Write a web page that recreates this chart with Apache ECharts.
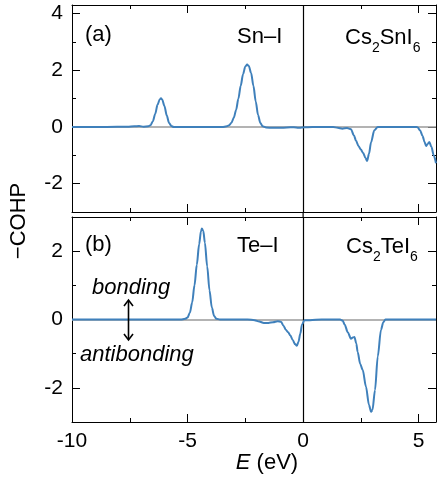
<!DOCTYPE html>
<html><head><meta charset="utf-8">
<script src="https://cdn.jsdelivr.net/npm/echarts@6/dist/echarts.min.js"></script>
<style>html,body{margin:0;padding:0;background:#fff}#c{width:437px;height:480px}</style>
</head><body><div id="c"></div>
<script>
// ---- axis ranges and ticks ----
const energyRange = [-10, 5.75];
const xMajorTicks = [-10, -5, 0, 5];
const xMinorTicks = [-7.5, -2.5, 2.5];
const yRangeA = [-3, 4.3];
const yMajorTicksA = [-2, 0, 2, 4];
const yMinorTicksA = [-3, -1, 1, 3];
const yRangeB = [-3, 3];
const yMajorTicksB = [-2, 0, 2];
const yMinorTicksB = [-1, 1];

// ---- (a) Cs2SnI6, Sn–I : [E (eV), -COHP] ----
const cohpSnI = [
  [-10, 0], [-8.5, 0], [-7.6, 0.005], [-7.3, 0.02], [-7.1, 0.03], [-6.9, 0.01],
  [-6.7, 0.02], [-6.6, 0.06], [-6.5, 0.2], [-6.4, 0.46], [-6.3, 0.78], [-6.2, 0.98],
  [-6.15, 1.01], [-6.1, 0.97], [-6.0, 0.74], [-5.9, 0.4], [-5.8, 0.14], [-5.7, 0.03],
  [-5.6, 0], [-3.5, 0], [-3.3, 0.02], [-3.2, 0.06], [-3.1, 0.15], [-3.0, 0.32],
  [-2.9, 0.6], [-2.8, 1.0], [-2.7, 1.45], [-2.6, 1.86], [-2.5, 2.13], [-2.42, 2.2],
  [-2.35, 2.15], [-2.25, 1.9], [-2.15, 1.45], [-2.05, 0.9], [-1.95, 0.42], [-1.85, 0.14],
  [-1.75, 0.02], [-1.6, -0.02], [-1.3, -0.03], [-1.0, -0.03], [-0.7, -0.02], [-0.4, -0.01],
  [-0.2, -0.03], [-0.05, -0.02], [0.2, -0.01], [0.6, 0], [1.3, 0], [1.5, -0.03],
  [1.7, -0.06], [1.9, -0.04], [2.07, -0.08], [2.2, -0.3], [2.29, -0.49], [2.4, -0.68],
  [2.5, -0.8], [2.6, -0.92], [2.7, -1.1], [2.77, -1.2], [2.85, -0.95], [2.94, -0.54],
  [3.08, -0.12], [3.23, 0], [4.9, 0], [4.96, -0.02], [5.06, -0.12], [5.17, -0.32],
  [5.25, -0.52], [5.32, -0.67], [5.39, -0.6], [5.46, -0.53], [5.55, -0.7], [5.65, -1.0],
  [5.75, -1.28]
];

// ---- (b) Cs2TeI6, Te–I : [E (eV), -COHP] ----
const cohpTeI = [
  [-10, 0], [-5.3, 0], [-5.1, 0.02], [-5.0, 0.06], [-4.9, 0.2], [-4.8, 0.5],
  [-4.7, 1.0], [-4.6, 1.6], [-4.5, 2.2], [-4.42, 2.58], [-4.38, 2.66], [-4.32, 2.6],
  [-4.25, 2.25], [-4.15, 1.55], [-4.05, 0.85], [-3.95, 0.35], [-3.85, 0.1], [-3.75, 0.02],
  [-3.6, 0], [-2.4, 0], [-2.1, -0.02], [-1.9, -0.06], [-1.7, -0.1], [-1.5, -0.1],
  [-1.3, -0.08], [-1.1, -0.05], [-0.95, -0.07], [-0.85, -0.18], [-0.75, -0.3], [-0.65, -0.37],
  [-0.55, -0.47], [-0.45, -0.6], [-0.35, -0.72], [-0.27, -0.77], [-0.2, -0.65], [-0.12, -0.41],
  [-0.05, -0.15], [0.06, -0.02], [0.3, -0.02], [0.8, 0], [1.6, 0], [1.71, -0.03],
  [1.8, -0.15], [1.93, -0.37], [2.07, -0.56], [2.15, -0.53], [2.22, -0.51], [2.3, -0.7],
  [2.36, -0.95], [2.47, -1.3], [2.58, -1.48], [2.72, -1.97], [2.85, -2.5], [2.94, -2.7],
  [3.0, -2.65], [3.11, -2.07], [3.23, -1.08], [3.37, -0.3], [3.47, -0.08], [3.56, 0],
  [5.75, 0]
];

// ---- panel texts ----
const formulaA = [['Cs', false], ['2', true], ['SnI', false], ['6', true]];
const formulaB = [['Cs', false], ['2', true], ['TeI', false], ['6', true]];

const FONT = "'Liberation Sans', Arial, Helvetica, sans-serif";
const TICK_FS = 21;
const LABEL_FS = 22;
const SUB_FS = 14;
const BLUE = '#3f80bb';

const grids = [
  { left: 72, top: 5, width: 364, height: 207 },
  { left: 72, top: 217, width: 364, height: 205 }
];

const lineOn = { show: true, onZero: false, lineStyle: { color: '#000', width: 1 } };
const lineOff = { show: false, onZero: false };

function makeAxis(kind, gi, range, pos, ticks, len, showLine, showLabels) {
  return {
    type: 'value', gridIndex: gi, min: range[0], max: range[1], position: pos,
    splitLine: { show: false },
    axisLine: showLine ? lineOn : lineOff,
    axisTick: { show: true, inside: true, length: len, customValues: ticks,
                lineStyle: { color: '#000', width: 1 } },
    axisLabel: showLabels
      ? { show: true, customValues: ticks, fontFamily: FONT, fontSize: TICK_FS, color: '#000',
          margin: kind === 'x' ? 9 : 9 }
      : { show: false }
  };
}

function xAxesFor(gi, labels) {
  return [
    makeAxis('x', gi, energyRange, 'bottom', xMajorTicks, 8, true, labels),
    makeAxis('x', gi, energyRange, 'bottom', xMinorTicks, 4, false, false),
    makeAxis('x', gi, energyRange, 'top', xMajorTicks, 8, true, false),
    makeAxis('x', gi, energyRange, 'top', xMinorTicks, 4, false, false)
  ];
}
function yAxesFor(gi, range, major, minor) {
  return [
    makeAxis('y', gi, range, 'left', major, 8, true, true),
    makeAxis('y', gi, range, 'left', minor, 4, false, false),
    makeAxis('y', gi, range, 'right', major, 8, true, false),
    makeAxis('y', gi, range, 'right', minor, 4, false, false)
  ];
}

function refLines() {
  return {
    silent: true, symbol: 'none', z: 1, animation: false,
    label: { show: false },
    data: [
      { yAxis: 0, lineStyle: { color: '#9a9a9a', width: 1.6, type: 'solid' } },
      { xAxis: 0, lineStyle: { color: '#000', width: 1.2, type: 'solid' } }
    ]
  };
}

function seriesFor(data, idx) {
  return {
    type: 'line', xAxisIndex: idx, yAxisIndex: idx, data: data,
    showSymbol: false, smooth: 0.3, smoothMonotone: 'x', z: 3,
    lineStyle: { color: BLUE, width: 2 },
    markLine: refLines()
  };
}

const txt = (text, x, y, extra) => ({
  type: 'text', silent: true, z: 10,
  style: Object.assign({ text: text, x: x, y: y, fill: '#000', fontFamily: FONT,
    fontSize: LABEL_FS, verticalAlign: 'middle', align: 'left' }, extra || {})
});

// formula with subscripts: pieces placed one after another, widths measured from the font
const measureCtx = document.createElement('canvas').getContext('2d');
function formula(parts, x, yMid) {
  const out = [];
  let cx = x;
  parts.forEach(([t, sub]) => {
    const fs = sub ? SUB_FS : LABEL_FS;
    measureCtx.font = fs + 'px ' + FONT;
    out.push(txt(t, cx, sub ? yMid + 10 : yMid, { fontSize: fs }));
    cx += measureCtx.measureText(t).width;
  });
  return out;
}

const option = {
  animation: false,
  backgroundColor: '#fff',
  grid: grids,
  xAxis: xAxesFor(0, false).concat(xAxesFor(1, true)),
  yAxis: yAxesFor(0, yRangeA, yMajorTicksA, yMinorTicksA)
           .concat(yAxesFor(1, yRangeB, yMajorTicksB, yMinorTicksB)),
  series: [seriesFor(cohpSnI, 0), seriesFor(cohpTeI, 4)],
  graphic: [
    txt('(a)', 85, 35),
    txt('Sn–I', 237, 37),
    ...formula(formulaA, 345, 38),
    txt('(b)', 85, 245),
    txt('Te–I', 237, 246),
    ...formula(formulaB, 346, 247),
    txt('bonding', 92, 288, { fontStyle: 'italic' }),
    txt('antibonding', 80, 355, { fontStyle: 'italic' }),
    { type: 'line', silent: true, z: 10, shape: { x1: 128.5, y1: 301, x2: 128.5, y2: 339 },
      style: { stroke: '#000', lineWidth: 1.6 } },
    { type: 'polyline', silent: true, z: 10, shape: { points: [[124, 306], [128.5, 300], [133, 306]] },
      style: { stroke: '#000', fill: null, lineWidth: 1.6 } },
    { type: 'polyline', silent: true, z: 10, shape: { points: [[124, 334], [128.5, 340], [133, 334]] },
      style: { stroke: '#000', fill: null, lineWidth: 1.6 } },
    { type: 'text', silent: true, z: 10,
      style: { text: '{i|E} (eV)', x: 267, y: 463, align: 'center', verticalAlign: 'middle',
               fontFamily: FONT, fontSize: LABEL_FS, fill: '#000',
               rich: { i: { fontFamily: FONT, fontSize: LABEL_FS, fontStyle: 'italic', fill: '#000' } } } },
    { type: 'text', silent: true, z: 10, rotation: Math.PI / 2, x: 19, y: 221,
      style: { text: '−COHP', x: 0, y: 0, align: 'center', verticalAlign: 'middle',
               fontFamily: FONT, fontSize: LABEL_FS, fill: '#000' } }
  ]
};

const chart = echarts.init(document.getElementById('c'), null, { renderer: 'canvas' });
chart.setOption(option);

// continue the E = 0 line through the gap between the two panels
const zTop = chart.convertToPixel({ xAxisIndex: 0, yAxisIndex: 0 }, [0, yRangeA[0]]);
const zBot = chart.convertToPixel({ xAxisIndex: 4, yAxisIndex: 4 }, [0, yRangeB[1]]);
chart.setOption({ graphic: option.graphic.concat([
  { type: 'line', silent: true, z: 10,
    shape: { x1: zTop[0], y1: zTop[1], x2: zBot[0], y2: zBot[1] },
    style: { stroke: '#000', lineWidth: 1.2 } }
]) });
</script>
</body></html>
